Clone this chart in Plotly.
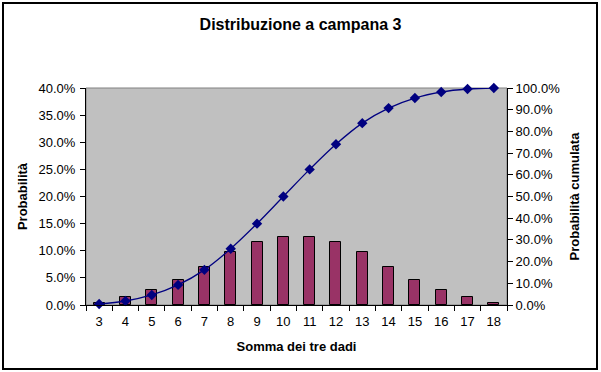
import plotly.graph_objects as go

sums = ["3", "4", "5", "6", "7", "8", "9", "10", "11", "12", "13", "14", "15", "16", "17", "18"]
prob = [0.0046, 0.0139, 0.0278, 0.0463, 0.0694, 0.0972, 0.1157, 0.125,
        0.125, 0.1157, 0.0972, 0.0694, 0.0463, 0.0278, 0.0139, 0.0046]
cum = [0.0046, 0.0185, 0.0463, 0.0926, 0.162, 0.2593, 0.375, 0.5,
       0.625, 0.7407, 0.838, 0.9074, 0.9537, 0.9815, 0.9954, 1.0]

W, H = 601, 372
L, R, T, B = 86, 507, 88, 305
FONT = "Liberation Sans, Arial, sans-serif"

fig = go.Figure()
fig.add_trace(go.Bar(x=sums, y=prob, marker=dict(color="#993366", line=dict(color="black", width=1)),
                     width=0.42, showlegend=False, yaxis="y"))
fig.add_trace(go.Scatter(x=sums, y=cum, mode="lines+markers", line=dict(color="#000080", width=1.3, shape="spline"),
                         marker=dict(symbol="diamond", size=8, color="#000080"), showlegend=False, yaxis="y2",
                         cliponaxis=False))

pw = R - L
ph = B - T
def px(x):
    return (x - L) / pw
def py(y):
    return (B - y) / ph

fig.update_layout(
    width=W, height=H,
    margin=dict(l=L, r=W - R, t=T, b=H - B, pad=0, autoexpand=False),
    paper_bgcolor="white", plot_bgcolor="#C0C0C0",
    font=dict(family=FONT, size=13, color="black"),
    title=dict(text="<b>Distribuzione a campana 3</b>", x=0.5, xanchor="center", y=1 - 24 / H, yanchor="middle",
               font=dict(size=16)),
    bargap=0,
    xaxis=dict(type="category", range=[-0.5, len(sums) - 0.5], tickson="boundaries", ticks="outside", ticklen=5,
               tickcolor="black", showline=True, linecolor="black", linewidth=1, showgrid=False, zeroline=False,
               automargin=False,
               title=dict(text="<b>Somma dei tre dadi</b>", standoff=14, font=dict(size=13)),
               ticklabelstandoff=4),
    yaxis=dict(range=[0, 0.4], dtick=0.05, tickformat=".1%", ticks="outside", ticklen=5, tickcolor="black",
               showline=True, linecolor="black", showgrid=False, zeroline=False, automargin=False,
               ticklabelstandoff=2,
               title=dict(text="<b>Probabilità</b>", standoff=7, font=dict(size=13))),
    yaxis2=dict(range=[0, 1], dtick=0.1, tickformat=".1%", ticks="outside", ticklen=5, tickcolor="black",
                showline=True, linecolor="black", showgrid=False, zeroline=False, overlaying="y", side="right",
                automargin=False,
                title=dict(text="<b>Probabilità cumulata</b>", standoff=10, font=dict(size=13))),
    shapes=[
        dict(type="rect", xref="paper", yref="paper", x0=0, x1=1, y0=0, y1=1,
             line=dict(color="#808080", width=1), layer="below"),
        dict(type="rect", xref="paper", yref="paper", x0=px(3), x1=px(597), y0=py(3), y1=py(369),
             line=dict(color="black", width=2), layer="above"),
    ],
)

fig.write_html("out.html", config=dict(displayModeBar=False),
               post_script="document.body.style.margin='0';document.body.style.overflow='hidden';")
